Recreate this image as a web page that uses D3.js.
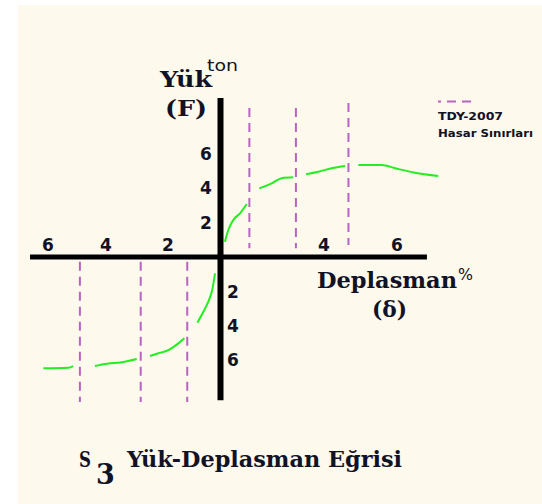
<!DOCTYPE html>
<html>
<head>
<meta charset="utf-8">
<script src="https://cdn.jsdelivr.net/npm/d3@7/dist/d3.min.js"></script>
<style>
  html, body { margin: 0; padding: 0; background: #ffffff; }
  svg { display: block; }
</style>
</head>
<body>
<script>
// ---------- data ----------
// x tick labels (displacement %, negative side shown as absolute values)
const xTickValues = [-6, -4, -2, 4, 6];
// y tick labels (load, ton)
const yTickValues = [6, 4, 2, -2, -4, -6];

// positive branch of load-displacement curve (null = gap in drawing)
const posDisp = [0.19, 0.32, 0.51, 0.77, 1.03, null, 1.51, 1.99, 2.37, 2.82, null, 3.31, 3.78, 4.21, 4.58, null, 4.94, 5.58, 5.95, 6.49, 7.13];
const posLoad = [0.89, 1.57, 2.15, 2.54, 3.08, null, 3.99, 4.28, 4.58, 4.63, null, 4.81, 4.96, 5.16, 5.29, null, 5.35, 5.35, 5.16, 4.90, 4.71];

// negative branch
const negDisp = [-6.16, -5.30, -5.13, null, -4.38, -4.03, -3.49, -3.01, null, -2.58, -2.31, -1.99, -1.60, -1.37, null, -0.87, -0.64, -0.45, -0.30, -0.19];
const negLoad = [-6.47, -6.44, -6.34, null, -6.34, -6.22, -6.12, -5.93, null, -5.76, -5.60, -5.41, -5.02, -4.73, null, -3.82, -3.18, -2.60, -1.92, -0.95];

// TDY-2007 damage limits (displacement) and their vertical extent (load)
const limitDisp   = [1.13, 2.92, 4.67, -4.90, -2.88, -1.26];
const limitTop    = [8.66, 8.66, 8.95, -0.27, -0.27, -0.27];
const limitBottom = [0.51, 0.51, 0.70, -8.43, -8.43, -8.43];

// axis extents (data units)
const xAxisExtent = [-6.62, 6.82];
const yAxisExtent = [-8.33, 9.24];

// ---------- drawing ----------
const W = 542, H = 504;
const svg = d3.select("body").append("svg").attr("width", W).attr("height", H);

svg.append("rect").attr("x", 18).attr("y", 5).attr("width", W - 18).attr("height", H - 5)
  .attr("fill", "#fdf9ec");

const x = d3.scaleLinear().domain([-6, -4, -2, 0, 4, 6]).range([48, 106, 168, 220, 324, 397]);
const y = d3.scaleLinear().domain([-6, 6]).range([360.2, 153.8]);

const purple = "#b964c3";
const green = "#22ee22";
const ink = "#121226";

// dashed limit lines
svg.append("g").selectAll("line").data(limitDisp).join("line")
  .attr("x1", d => x(d)).attr("x2", d => x(d))
  .attr("y1", (d, i) => y(limitTop[i])).attr("y2", (d, i) => y(limitBottom[i]))
  .attr("stroke", purple).attr("stroke-width", 2)
  .attr("stroke-dasharray", "9,6");

// axes
svg.append("line")
  .attr("x1", x(xAxisExtent[0])).attr("x2", x(xAxisExtent[1]))
  .attr("y1", y(0)).attr("y2", y(0))
  .attr("stroke", "#000").attr("stroke-width", 5);
svg.append("line")
  .attr("x1", x(0) + 0.5).attr("x2", x(0) + 0.5)
  .attr("y1", y(yAxisExtent[1])).attr("y2", y(yAxisExtent[0]))
  .attr("stroke", "#000").attr("stroke-width", 6);

// curves
const line = d3.line()
  .defined(d => d[0] != null && d[1] != null)
  .x(d => x(d[0])).y(d => y(d[1]))
  .curve(d3.curveMonotoneX);

svg.append("path").datum(posDisp.map((v, i) => [v, posLoad[i]]))
  .attr("d", line).attr("fill", "none").attr("stroke", green).attr("stroke-width", 2);
svg.append("path").datum(negDisp.map((v, i) => [v, negLoad[i]]))
  .attr("d", line).attr("fill", "none").attr("stroke", green).attr("stroke-width", 2);

// tick labels
const numFont = "'DejaVu Sans', sans-serif";
svg.append("g").selectAll("text").data(xTickValues).join("text")
  .attr("x", d => x(d)).attr("y", y(0) - 6)
  .attr("text-anchor", "middle")
  .attr("font-family", numFont).attr("font-weight", "bold").attr("font-size", 17)
  .attr("fill", ink)
  .text(d => Math.abs(d));

svg.append("g").selectAll("text").data(yTickValues).join("text")
  .attr("x", d => d > 0 ? x(0) - 14 : x(0) + 13)
  .attr("y", d => y(d))
  .attr("dy", "0.36em")
  .attr("text-anchor", "middle")
  .attr("font-family", numFont).attr("font-weight", "bold").attr("font-size", 17)
  .attr("fill", ink)
  .text(d => Math.abs(d));

// titles
const serif = "'DejaVu Serif', serif";
function label(txt, px, py, size, len, family, weight, anchor) {
  const t = svg.append("text").attr("x", px).attr("y", py)
    .attr("font-family", family).attr("font-weight", weight).attr("font-size", size)
    .attr("fill", ink).attr("text-anchor", anchor || "start")
    .text(txt);
  if (len) t.attr("textLength", len).attr("lengthAdjust", "spacingAndGlyphs");
  return t;
}
label("Yük", 160, 87, 22, 52, serif, "bold");
label("ton", 207, 71, 15, 31, numFont, "normal");
label("(F)", 165, 116, 22, 42, serif, "bold");

label("Deplasman", 317, 288, 22, 140, serif, "bold");
label("%", 458, 280, 15, 15, numFont, "normal");
label("(δ)", 372, 317, 22, 35, serif, "bold");

// legend
svg.append("line").attr("x1", 438).attr("x2", 477).attr("y1", 101.5).attr("y2", 101.5)
  .attr("stroke", purple).attr("stroke-width", 2)
  .attr("stroke-dasharray", "9,6").attr("stroke-dashoffset", 6);
label("TDY-2007", 438, 120, 11, 65, numFont, "bold");
label("Hasar Sınırları", 438, 137, 11, 95, numFont, "bold");

// chart caption
label("S", 79, 467, 23, 12, serif, "bold");
label("3", 96, 484, 27, null, serif, "bold");
label("Yük-Deplasman Eğrisi", 127, 467, 22, 275, serif, "bold");
</script>
</body>
</html>
